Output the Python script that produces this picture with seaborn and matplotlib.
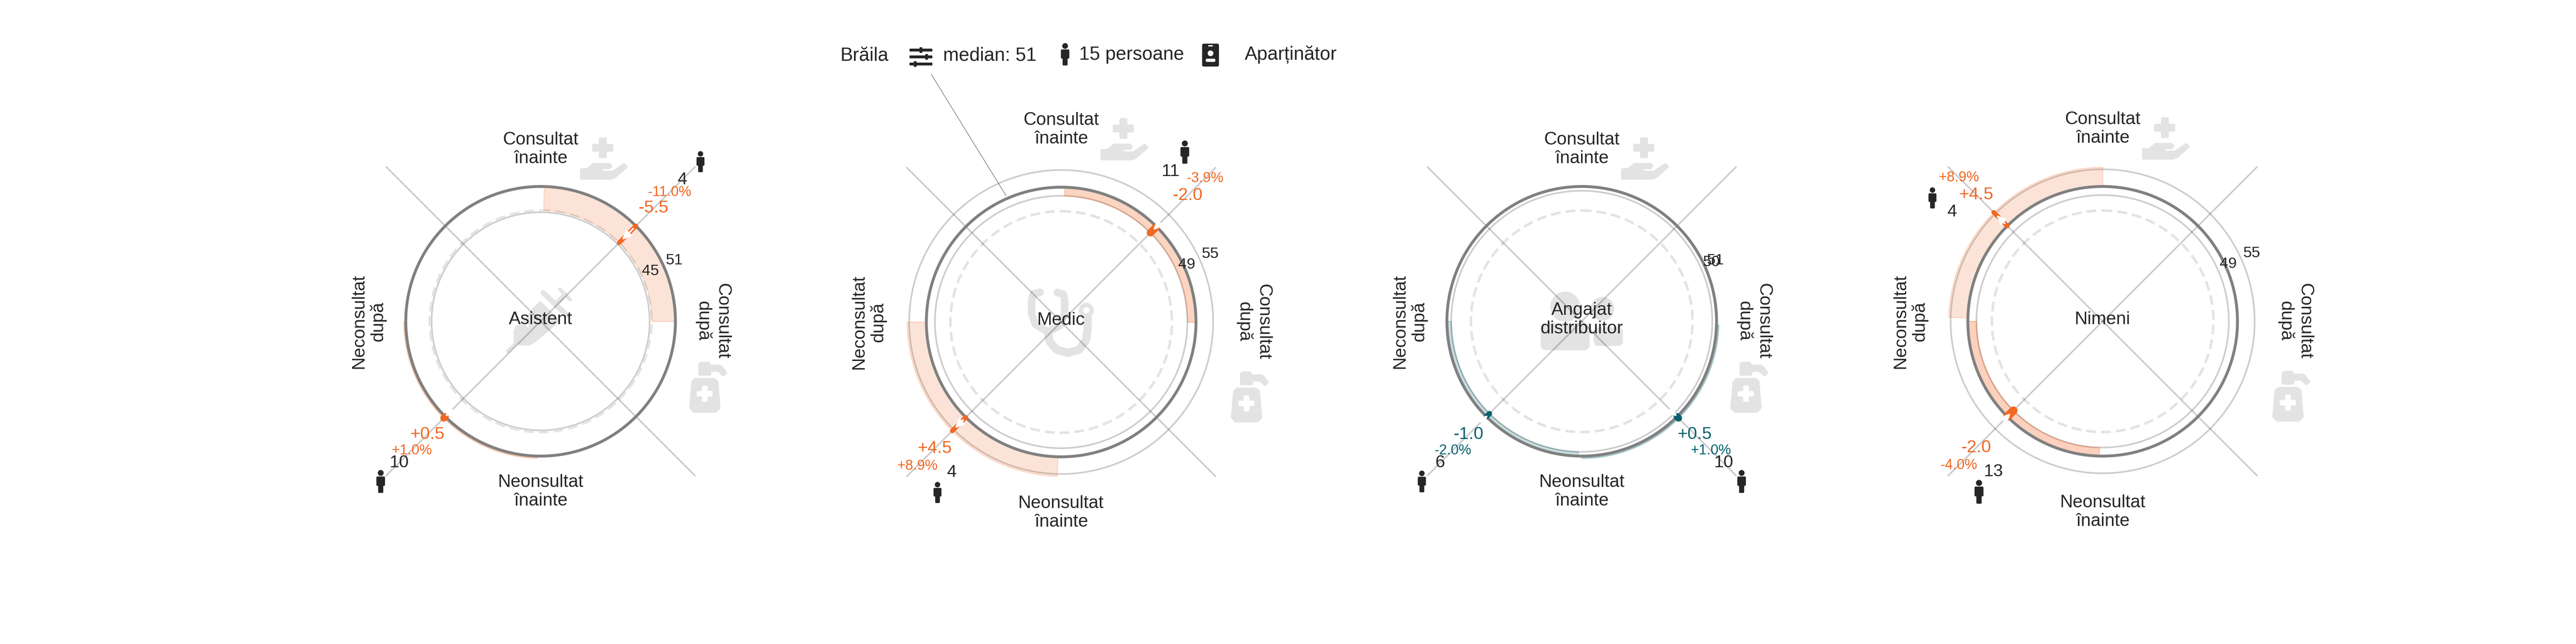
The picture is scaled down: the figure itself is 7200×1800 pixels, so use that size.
import numpy as np
import matplotlib
matplotlib.use("Agg")
import matplotlib.pyplot as plt
import matplotlib.patches as mpatches
import seaborn as sns

# values
roles = ["Asistent", "Medic", "Angajat\ndistribuitor", "Nimeni"]
median_value = 51
ring_high = [51, 55, 51, 55]
ring_low = [45, 49, 50, 49]
dashed_value = 45.4
shift_quadrants = [["NE", "SW"], ["NE", "SW"], ["SE", "SW"], ["NW", "SW"]]
shift_values = [[-5.5, 0.5], [-2.0, 4.5], [0.5, -1.0], [4.5, -2.0]]
shift_labels = [["-5.5", "+0.5"], ["-2.0", "+4.5"], ["+0.5", "-1.0"], ["+4.5", "-2.0"]]
shift_pct = [["-11.0%", "+1.0%"], ["-3.9%", "+8.9%"], ["+1.0%", "-2.0%"], ["+8.9%", "-4.0%"]]
shift_counts = [[4, 10], [11, 4], [10, 6], [4, 13]]
quadrant_names = ["Consultat\nînainte", "Consultat\ndupă", "Neonsultat\nînainte", "Neconsultat\ndupă"]

# layout
centers = [(1511, 898), (2966, 900), (4421, 898), (5877, 898)]
ORANGE = "#f26722"
TEAL = "#00626e"
INK = "#262626"
ICON = "#e3e3e3"
panel_colors = [ORANGE, ORANGE, TEAL, ORANGE]
quad_base = {"NE": 0, "SE": 90, "SW": 180, "NW": 270}
PX = 12.0          # pixels per value unit
V0 = 19.6          # value at the centre of the circle
VMAX = 75
DPI = 100


def pt(px):
    return px * 72.0 / DPI


def v_at(px):
    return V0 + px / PX


sns.set_theme(style="white", font="Liberation Sans")
plt.rcParams["font.family"] = ["Liberation Sans", "DejaVu Sans"]

fig = plt.figure(figsize=(72, 18), dpi=DPI, facecolor="white")
bg = fig.add_axes([0, 0, 1, 1], zorder=0)
bg.set_xlim(0, 7200)
bg.set_ylim(1800, 0)
bg.set_axis_off()


def poly(pts, ox, oy, k=1 / 3, color=ICON, lw=3, z=1):
    xy = [(ox + x * k, oy + y * k) for x, y in pts]
    bg.add_patch(mpatches.Polygon(xy, closed=True, fc=color, ec=color, lw=lw, joinstyle="round", zorder=z))


def rect(x0, y0, x1, y1, color=ICON, rad=5, z=1):
    bg.add_patch(mpatches.FancyBboxPatch((x0 + rad, y0 + rad), x1 - x0 - 2 * rad, y1 - y0 - 2 * rad,
                                         boxstyle="round,pad=%g,rounding_size=%g" % (rad, rad),
                                         fc=color, ec="none", zorder=z))


def stroke(pts, ox, oy, sx, sy, width, color=ICON):
    xs = [ox + p[0] * sx for p in pts]
    ys = [oy + p[1] * sy for p in pts]
    bg.plot(xs, ys, color=color, lw=pt(width), solid_capstyle="round", solid_joinstyle="round", zorder=1)


def person(x, y, h, color=INK):
    k = h / 58.0
    bg.add_patch(mpatches.Circle((x, y - 21 * k), 7.5 * k, fc=color, ec="none", zorder=3))
    rect(x - 11 * k, y - 12 * k, x + 11 * k, y + 12 * k, color, 3 * k, 3)
    rect(x - 6.5 * k, y + 5 * k, x + 6.5 * k, y + 30 * k, color, 2.5 * k, 3)


def hand_icon(cx, cy, top):
    ox = cx + 89
    oy = cy + top
    rect(ox + 74, oy + 22, ox + 96, oy + 80, rad=4)
    rect(ox + 55, oy + 40, ox + 114, oy + 62, rad=4)
    poly([(75, 337), (122, 337), (178, 292), (308, 292), (322, 305), (310, 320), (250, 320), (240, 338),
          (250, 357), (340, 357), (432, 295), (452, 312), (352, 398), (318, 409), (75, 409)], ox, oy, lw=pt(8))


def bottle_icon(cx, cy, dx, dy):
    ox = cx + dx
    oy = cy + dy
    poly([(168, 138), (168, 55), (180, 46), (240, 46), (252, 70), (335, 70), (350, 80), (384, 125), (365, 143),
          (322, 105), (252, 105), (252, 138)], ox, oy, lw=pt(8))
    poly([(118, 206), (135, 190), (285, 190), (303, 206), (320, 415), (298, 440), (122, 440), (100, 415)],
         ox, oy, lw=pt(14))
    rect(ox + 62, oy + 78, ox + 78, oy + 123, "white", 4, 2)
    rect(ox + 47, oy + 93, ox + 92, oy + 108, "white", 4, 2)


def syringe_icon(cx, cy):
    ox = cx - 161
    oy = cy - 118
    stroke([(645, 85), (730, 172)], ox, oy, 1 / 3, 1 / 3, 10)
    stroke([(690, 130), (630, 190)], ox, oy, 1 / 3, 1 / 3, 14)
    stroke([(505, 115), (700, 300)], ox, oy, 1 / 3, 1 / 3, 15)
    poly([(480, 192), (640, 350), (430, 530), (380, 552), (310, 550), (265, 525), (262, 430), (285, 392),
          (345, 385), (375, 415), (400, 392), (345, 350), (415, 255)], ox, oy)
    stroke([(285, 530), (208, 606)], ox, oy, 1 / 3, 1 / 3, 10)


def stethoscope_icon(cx, cy):
    ox = cx - 693 / 1.04
    oy = cy - 915 / 1.076
    sx = 1 / 1.04
    sy = 1 / 1.076
    stroke([(632, 826), (612, 830), (607, 850), (607, 890), (618, 922), (655, 945), (690, 925), (703, 890),
            (703, 850), (700, 832), (682, 826)], ox, oy, sx, sy, 21)
    stroke([(655, 950), (660, 975), (680, 998), (712, 1008), (745, 998), (765, 970), (770, 935), (770, 895)],
           ox, oy, sx, sy, 23)
    bg.add_patch(mpatches.Circle((ox + 766 * sx, oy + 880 * sy), 15, fc="white", ec=ICON, lw=pt(12), zorder=1))


def people_icon(cx, cy):
    bg.add_patch(mpatches.Circle((cx - 46, cy - 41), 42, fc=ICON, ec="none", zorder=1))
    rect(cx - 115, cy + 5, cx + 22, cy + 81, rad=17)
    bg.add_patch(mpatches.Circle((cx + 58, cy - 35), 33, fc=ICON, ec="none", zorder=1))
    rect(cx + 33, cy + 17, cx + 115, cy + 69, rad=15)


for i, (cx, cy) in enumerate(centers):
    R = (VMAX - V0) * PX
    ax = fig.add_axes([(cx - R) / 7200, 1 - (cy + R) / 1800, 2 * R / 7200, 2 * R / 1800],
                      projection="polar", zorder=1)
    ax.set_theta_zero_location("N")
    ax.set_theta_direction(-1)
    ax.set_ylim(V0, VMAX)
    ax.set_axis_off()
    col = panel_colors[i]
    circle = np.linspace(0, 2 * np.pi, 361)

    # diagonals through the centre
    for deg in [45, 135, 225, 315]:
        t = np.deg2rad(deg)
        sns.lineplot(x=[t, t], y=[V0, v_at(610)], ax=ax, estimator=None, sort=False, color="black",
                     alpha=0.2, lw=pt(4.5), zorder=3)

    # light rings and the dashed one
    for val in sorted({ring_low[i], ring_high[i]}):
        sns.lineplot(x=circle, y=np.full(361, val), ax=ax, estimator=None, sort=False, color="black",
                     alpha=0.2, lw=pt(4.5), zorder=1)
    ax.plot(circle, np.full(361, dashed_value), color=ICON, lw=pt(7), dashes=(3.9, 2.0), zorder=1)

    # bands
    for q, val, n in zip(shift_quadrants[i], shift_values[i], shift_counts[i]):
        arc = np.deg2rad(np.linspace(quad_base[q] + 1.5, quad_base[q] + 90, 90))
        alpha = 0.13 + 0.013 * n
        ax.fill_between(arc, median_value, median_value + val, color=col, alpha=alpha, lw=pt(3), zorder=2)

    # the median ring
    sns.lineplot(x=circle, y=np.full(361, median_value), ax=ax, estimator=None, sort=False,
                 color="#808080", lw=pt(8), zorder=4)

    # ring labels
    for val in sorted({ring_low[i], ring_high[i]}):
        ax.text(np.deg2rad(65.5), val + 2.75, str(val), fontsize=31, color=INK, ha="center", va="center", zorder=7)

    # arrows and their labels
    wide = ring_high[i] == 55
    for q, val, lab, pct, n in zip(shift_quadrants[i], shift_values[i], shift_labels[i], shift_pct[i],
                                   shift_counts[i]):
        base = quad_base[q]
        t = np.deg2rad(base + 45)
        end = median_value + val
        d = 1 if val > 0 else -1
        sns.lineplot(x=[t, t], y=[median_value, end], ax=ax, estimator=None, sort=False, color=col,
                     lw=pt(8 + 1.15 * n), solid_capstyle="round", zorder=5)
        tip = end - d * (0.45 if abs(val) < 1.5 else 0.85)
        tail = median_value + d * 0.9
        if abs(tip - tail) * PX < 26 or (tip - tail) * d < 0:
            tail = tip - d * 26 / PX
        ax.annotate("", xy=(t, tip), xytext=(t, tail), zorder=6, annotation_clip=False,
                    arrowprops=dict(arrowstyle="-|>,head_length=15,head_width=6.5", mutation_scale=1,
                                    color="white", lw=pt(5), shrinkA=0, shrinkB=0))
        r_val, r_pct, r_n, r_icon = (500, 569, 520, 588) if wide else (447, 510, 560, 632)
        t_n = np.deg2rad(base + 36) if wide else t
        ax.text(t, v_at(r_val), lab, fontsize=35, color=col, ha="center", va="center", zorder=7)
        ax.text(t, v_at(r_pct), pct, fontsize=28.5, color=col, ha="center", va="center", zorder=7)
        ax.text(t_n, v_at(r_n), str(n), fontsize=35, color=INK, ha="center", va="center", zorder=7)
        person(cx + r_icon * np.sin(t_n), cy - r_icon * np.cos(t_n), 55 + 0.85 * n)

    # quadrant names and the role in the middle
    off = 538 if wide else 481
    ax.text(0, v_at(off), quadrant_names[0], fontsize=36, color=INK, ha="center", va="center",
            linespacing=1.19, zorder=7)
    ax.text(np.pi / 2, v_at(off), quadrant_names[1], fontsize=36, color=INK, ha="center", va="center",
            rotation=270, rotation_mode="anchor", linespacing=1.19, zorder=7)
    ax.text(np.pi, v_at(off - 5), quadrant_names[2], fontsize=36, color=INK, ha="center", va="center",
            linespacing=1.19, zorder=7)
    ax.text(1.5 * np.pi, v_at(off), quadrant_names[3], fontsize=36, color=INK, ha="center", va="center",
            rotation=90, rotation_mode="anchor", linespacing=1.19, zorder=7)
    bg.text(cx, cy - 5, roles[i], fontsize=36, color=INK, ha="center", va="center", linespacing=1.19, zorder=2)

    hand_icon(cx, cy, -592 if wide else -536)
    if wide:
        bottle_icon(cx, cy, 448, 127)
    else:
        bottle_icon(cx, cy, 389, 102)

syringe_icon(*centers[0])
stethoscope_icon(*centers[1])
people_icon(*centers[2])

# header row
head_y = 155
bg.text(2349, head_y, "Brăila", fontsize=38, color=INK, ha="left", va="center")
for y, kx in [(140, 2574), (159, 2590), (179, 2558)]:
    rect(2542, y - 4, 2606, y + 4, INK, 2, 3)
    rect(kx - 4, y - 8, kx + 4, y + 8, INK, 2, 3)
bg.text(2636, head_y, "median: 51", fontsize=38, color=INK, ha="left", va="center")
person(2977, 151, 62)
bg.text(3016, head_y - 2, "15 persoane", fontsize=38, color=INK, ha="left", va="center")
rect(3360, 122, 3407, 186, INK, 5, 3)
rect(3377, 126, 3390, 130, "white", 1.5, 4)
bg.add_patch(mpatches.Circle((3383.5, 149), 8, fc="white", ec="none", zorder=4))
rect(3370, 164, 3397, 173, "white", 4, 4)
bg.text(3479, head_y - 2, "Aparținător", fontsize=38, color=INK, ha="left", va="center")
bg.plot([2603, 2812], [208, 547], color="#707070", lw=pt(1.6), zorder=2)

fig.savefig("out.png", dpi=DPI, facecolor="white")
